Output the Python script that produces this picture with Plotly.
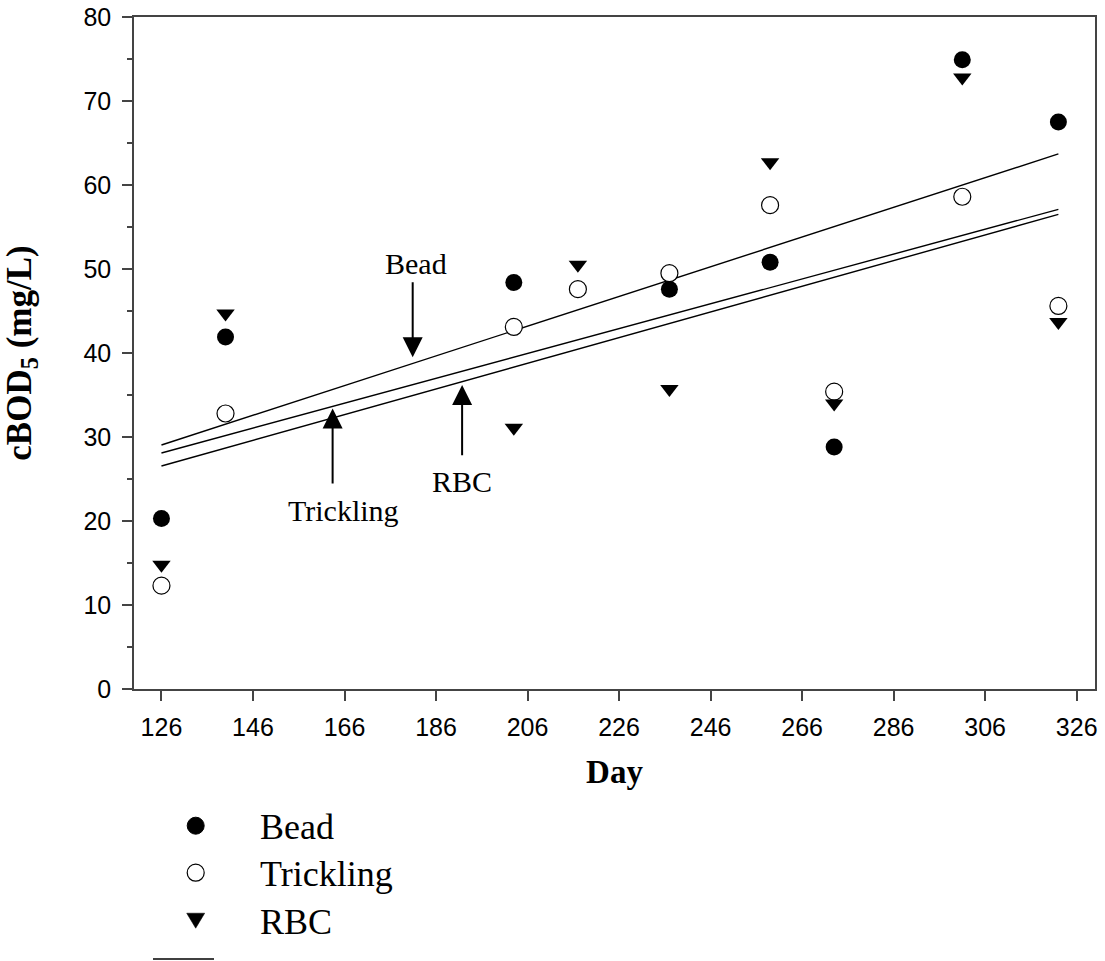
import plotly.graph_objects as go

# ---------------- data ----------------
days_bead = [126, 140, 203, 237, 259, 273, 301, 322]
bead = [20.3, 41.9, 48.4, 47.6, 50.8, 28.8, 74.9, 67.5]

days_all = [126, 140, 203, 217, 237, 259, 273, 301, 322]
trickling = [12.3, 32.8, 43.1, 47.6, 49.5, 57.6, 35.4, 58.6, 45.6]
rbc = [14.8, 44.7, 31.1, 50.5, 35.7, 62.7, 34.0, 72.8, 43.7]

# regression lines (values read at the line ends)
fit_days = [126, 322]
fit_bead = [29.05, 63.7]
fit_trickling = [28.1, 57.1]
fit_rbc = [26.55, 56.5]

x_ticks = [126, 146, 166, 186, 206, 226, 246, 266, 286, 306, 326]
y_ticks = [0, 10, 20, 30, 40, 50, 60, 70, 80]

SERIF = "Liberation Serif, Times New Roman, serif"
SANS = "Liberation Sans, Arial, sans-serif"

fig = go.Figure()

for ys in (fit_bead, fit_trickling, fit_rbc):
    fig.add_trace(go.Scatter(x=fit_days, y=ys, mode="lines",
                             line=dict(color="black", width=1.4),
                             showlegend=False, hoverinfo="skip"))

fig.add_trace(go.Scatter(x=days_bead, y=bead, mode="markers", name="Bead",
                         marker=dict(symbol="circle", size=17, color="black"),
                         showlegend=False))
fig.add_trace(go.Scatter(x=days_all, y=trickling, mode="markers", name="Trickling",
                         marker=dict(symbol="circle", size=17, color="white",
                                     line=dict(color="black", width=1.2)),
                         showlegend=False))
fig.add_trace(go.Scatter(x=days_all, y=rbc, mode="markers", name="RBC",
                         marker=dict(symbol="triangle-down", size=16, color="black"),
                         showlegend=False))

# arrows with labels
arrows = [
    # (tip_x, tip_y, tail_x, tail_y, label, label_x, label_y)
    (180.9, 39.5, 180.9, 48.6, "Bead", 181.7, 50.7),
    (163.4, 33.4, 163.4, 24.3, "Trickling", 165.7, 21.3),
    (191.7, 36.2, 191.7, 27.65, "RBC", 191.7, 24.7),
]
annotations = []
for tx, ty, ax, ay, lab, lx, ly in arrows:
    annotations.append(dict(x=tx, y=ty, ax=ax, ay=ay, xref="x", yref="y",
                            axref="x", ayref="y", text="", showarrow=True,
                            arrowhead=2, arrowwidth=2, arrowsize=2,
                            arrowcolor="black"))
    annotations.append(dict(x=lx, y=ly, xref="x", yref="y", text=lab,
                            showarrow=False, font=dict(family=SERIF, size=30,
                                                       color="black")))

# legend built below the plot
W_PLOT = 961.0
H_PLOT = 672.0
def px_x(px):
    return (px - 134) / W_PLOT
def px_y(py):
    return (689 - py) / H_PLOT

leg_names = ["Bead", "Trickling", "RBC"]
leg_y = [825.7, 872.7, 920.7]
for name, py in zip(leg_names, leg_y):
    annotations.append(dict(x=px_x(258), y=px_y(py + 1), xref="paper", yref="paper",
                            xanchor="left", yanchor="middle", text=name,
                            showarrow=False,
                            font=dict(family=SERIF, size=36, color="black")))

shapes = [
    dict(type="circle", xref="paper", yref="paper", xsizemode="pixel",
         ysizemode="pixel", xanchor=px_x(195.7), yanchor=px_y(leg_y[0]),
         x0=-8.5, x1=8.5, y0=-8.5, y1=8.5, fillcolor="black",
         line=dict(color="black", width=1)),
    dict(type="circle", xref="paper", yref="paper", xsizemode="pixel",
         ysizemode="pixel", xanchor=px_x(195.7), yanchor=px_y(leg_y[1]),
         x0=-8.5, x1=8.5, y0=-8.5, y1=8.5, fillcolor="white",
         line=dict(color="black", width=1.2)),
    dict(type="path", xref="paper", yref="paper", xsizemode="pixel",
         ysizemode="pixel", xanchor=px_x(195.7), yanchor=px_y(leg_y[2]),
         path="M-9,7.5L9,7.5L0,-7.5Z", fillcolor="black",
         line=dict(color="black", width=0.5)),
    dict(type="line", xref="paper", yref="paper", x0=px_x(153), x1=px_x(214),
         y0=px_y(959), y1=px_y(959), line=dict(color="black", width=1.5)),
]

axis_common = dict(showgrid=False, zeroline=False, showline=True,
                   linecolor="#444", linewidth=1.5, mirror=True,
                   ticks="outside", ticklen=10, tickwidth=1.5, tickcolor="#444",
                   automargin=False,
                   tickfont=dict(family=SANS, size=25, color="black"))

fig.update_layout(
    width=1105, height=961,
    margin=dict(l=134, r=10, t=17, b=272),
    paper_bgcolor="white", plot_bgcolor="white",
    showlegend=False,
    xaxis=dict(range=[120, 330], tickvals=x_ticks,
               ticktext=[str(v) for v in x_ticks],
               ticklabelstandoff=5,
               title=dict(text="<b>Day</b>", font=dict(family=SERIF, size=33,
                                                      color="black"),
                          standoff=20),
               **axis_common),
    yaxis=dict(range=[0, 80], tickvals=y_ticks,
               ticktext=[str(v) for v in y_ticks],
               ticklabelstandoff=6,
               minor=dict(ticks="outside", ticklen=5, tickwidth=1.5,
                          tickcolor="#444", dtick=5),
               title=dict(text="<b>cBOD<sub>5</sub> (mg/L)</b>",
                          font=dict(family=SERIF, size=35, color="black"),
                          standoff=42),
               **axis_common),
    annotations=annotations,
    shapes=shapes,
)

fig.write_html("out.html")
